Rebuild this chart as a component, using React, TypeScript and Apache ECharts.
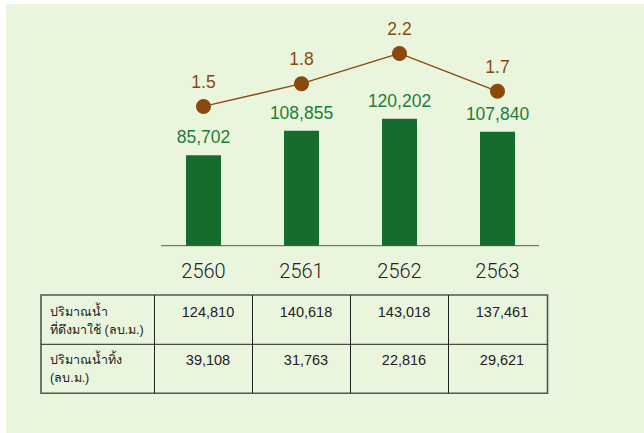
import React, { useEffect, useRef } from "react";
import * as echarts from "echarts";

const years = ["2560", "2561", "2562", "2563"];
const waterUse = [85702, 108855, 120202, 107840];
const ratio = [1.5, 1.8, 2.2, 1.7];
const rowLabels = [
  ["ปริมาณน้ำ", "ที่ดึงมาใช้ (ลบ.ม.)"],
  ["ปริมาณน้ำทิ้ง", "(ลบ.ม.)"],
];
const withdrawn = [124810, 140618, 143018, 137461];
const discharged = [39108, 31763, 22816, 29621];

const FONT = "'Liberation Sans', Arial, Helvetica, 'Noto Sans', sans-serif";
const AXIS_FONT = "Roboto, 'Liberation Sans', Arial, sans-serif";
const W = 644;
const H = 433;
const GRID_LEFT = 154.5;
const GRID_RIGHT = 97.5;
const GRID_TOP = 34.5;
const AXIS_Y = 245.7;
const GRID_BOTTOM = H - AXIS_Y;

const fmt = (n: number) => n.toLocaleString("en-US");

export default function App() {
  const ref = useRef<HTMLDivElement>(null);
  useEffect(() => {
    if (!ref.current) return;
    const chart = echarts.init(ref.current, undefined, { renderer: "svg" });
    const band = (W - GRID_LEFT - GRID_RIGHT) / years.length;
    const tLeft = 41;
    const tTop = 295;
    const tMid = 344.3;
    const tBottom = 393.3;
    const tRight = GRID_LEFT + band * years.length + 1;

    const graphics: any[] = [
      {
        type: "rect",
        silent: true,
        z: -10,
        shape: { x: 6, y: 4, width: W - 6, height: H - 4 },
        style: { fill: "#EAF5DE" },
      },
      {
        type: "line",
        silent: true,
        shape: { x1: 161, y1: AXIS_Y, x2: 539, y2: AXIS_Y },
        style: { stroke: "#5a5a5a", lineWidth: 1 },
      },
      {
        type: "rect",
        silent: true,
        shape: { x: tLeft, y: tTop, width: tRight - tLeft, height: tBottom - tTop },
        style: { fill: "none", stroke: "#555", lineWidth: 1.6 },
      },
      {
        type: "line",
        silent: true,
        shape: { x1: tLeft, y1: tMid, x2: tRight, y2: tMid },
        style: { stroke: "#222", lineWidth: 1 },
      },
    ];
    for (let i = 0; i < years.length; i++) {
      const x = GRID_LEFT + band * i;
      graphics.push({
        type: "line",
        silent: true,
        shape: { x1: x, y1: tTop, x2: x, y2: tBottom },
        style: { stroke: "#222", lineWidth: 1 },
      });
    }
    const rowsY = [
      [311.7, 329.5],
      [360, 377.5],
    ];
    const rowValues = [withdrawn, discharged];
    rowLabels.forEach((lines, r) => {
      lines.forEach((t, li) => {
        graphics.push({
          type: "text",
          silent: true,
          style: {
            x: 50,
            y: rowsY[r][li],
            text: t,
            fill: "#222",
            font: `12.5px ${FONT}`,
            textAlign: "left",
            textVerticalAlign: "middle",
          },
        });
      });
      rowValues[r].forEach((v, i) => {
        graphics.push({
          type: "text",
          silent: true,
          style: {
            x: GRID_LEFT + band * (i + 0.5) + 4.5,
            y: rowsY[r][0],
            text: fmt(v),
            fill: "#222",
            font: `14.5px ${FONT}`,
            textAlign: "center",
            textVerticalAlign: "middle",
          },
        });
      });
    });

    chart.setOption({
      animation: false,
      backgroundColor: "#ffffff",
      textStyle: { fontFamily: FONT },
      grid: { left: GRID_LEFT, right: GRID_RIGHT, top: GRID_TOP, bottom: GRID_BOTTOM },
      xAxis: {
        type: "category",
        data: years,
        axisLine: { show: false },
        axisTick: { show: false },
        axisLabel: {
          fontSize: 20,
          color: "#222",
          margin: 15,
          fontFamily: AXIS_FONT,
          fontWeight: 300,
        },
      },
      yAxis: [
        { type: "value", min: 0, max: 200000, show: false, splitLine: { show: false } },
        { type: "value", min: -0.34, max: 2.45, show: false, splitLine: { show: false } },
      ],
      series: [
        {
          type: "bar",
          data: waterUse,
          barWidth: 35,
          itemStyle: { color: "#166C2C" },
          label: {
            show: true,
            position: "top",
            distance: 9,
            formatter: (p: any) => fmt(p.value),
            fontSize: 17.5,
            color: "#1F7D35",
            fontFamily: FONT,
            fontWeight: "normal",
          },
        },
        {
          type: "line",
          yAxisIndex: 1,
          data: ratio,
          symbol: "circle",
          symbolSize: 15,
          lineStyle: { color: "#8B4A0B", width: 1.3 },
          itemStyle: { color: "#8B4A0B" },
          label: {
            show: true,
            position: "top",
            distance: 8,
            formatter: (p: any) => p.value.toFixed(1),
            fontSize: 17.5,
            color: "#8B4A0B",
            fontFamily: FONT,
            fontWeight: "normal",
          },
        },
      ],
      graphic: graphics,
    });
    return () => chart.dispose();
  }, []);
  return (
    <div
      ref={ref}
      style={{ position: "absolute", left: 0, top: 0, width: W, height: H }}
    />
  );
}
